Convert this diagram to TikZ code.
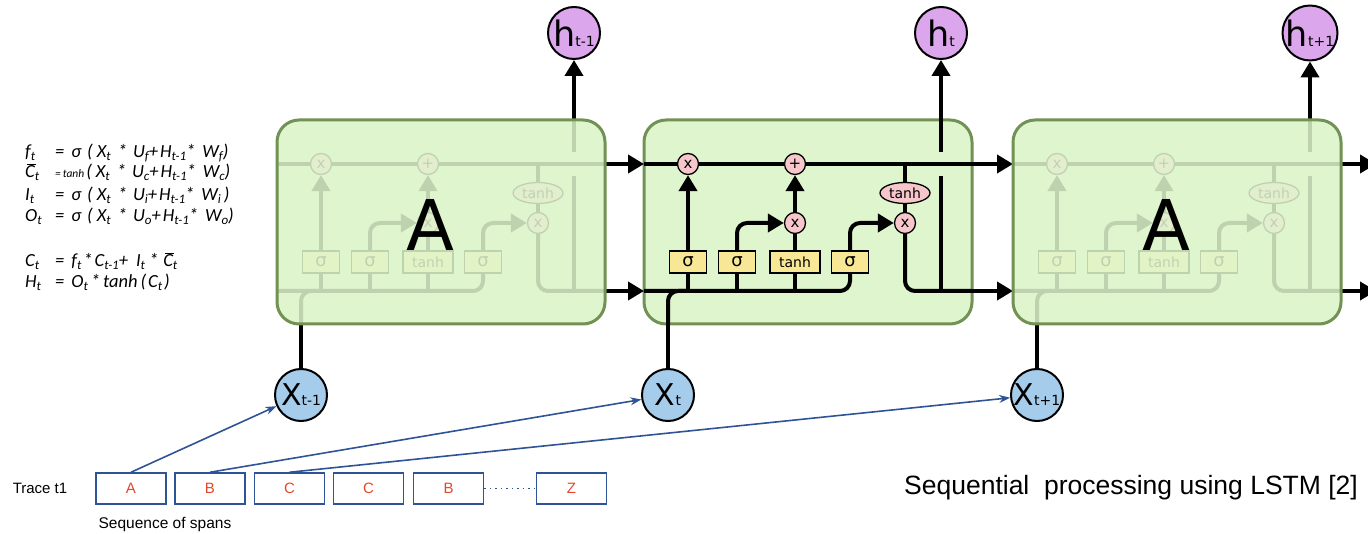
\documentclass[tikz,border=0pt]{standalone}
\usepackage{fontspec}
\setmainfont{DejaVu Sans}
\newfontfamily\lib{Liberation Sans}
\newfontfamily\carl{Carlito}
\usetikzlibrary{arrows.meta,shapes.geometric}
\pgfdeclarelayer{bg}\pgfdeclarelayer{lines}\pgfdeclarelayer{fade}\pgfdeclarelayer{top}
\pgfsetlayers{bg,lines,main,fade,top}
\definecolor{cCell}{RGB}{223,245,206}
\definecolor{cCellB}{RGB}{114,145,84}
\definecolor{cPink}{RGB}{246,198,203}
\definecolor{cYel}{RGB}{248,232,150}
\definecolor{cPur}{RGB}{220,166,236}
\definecolor{cBlu}{RGB}{166,204,236}
\definecolor{cArr}{RGB}{47,84,150}
\definecolor{cRed}{RGB}{226,72,44}
\newcommand\hsub[1]{{\fontsize{14}{14}\selectfont #1}}
\newcommand\es[1]{\raisebox{-3pt}{\fontsize{13}{13}\selectfont #1}}
\newcommand\cbar{\leavevmode\rlap{\hspace{1.5pt}\raisebox{13.5pt}{\rule{9pt}{0.9pt}}}C}
\newcommand\rhs[3]{=\hspace{7pt}#1\hspace{6pt}(\hspace{4pt}X\es{t}\hspace{7pt}*\hspace{6pt}U\es{#2}+\hspace{2pt}H\es{t-1}*\hspace{7pt}W\es{#2}#3)}
\tikzset{
  ln/.style={line width=4pt, black},
  arr/.style={-{Triangle[length=16pt,width=18pt]}},
  pc/.style={circle, draw, line width=1.3pt, fill=cPink, minimum size=21pt, inner sep=0pt, font=\fontsize{15}{15}\selectfont},
  pe/.style={ellipse, draw, line width=1.3pt, fill=cPink, minimum width=50pt, minimum height=21pt, inner sep=0pt, font=\fontsize{14}{14}\selectfont},
  yb/.style={rectangle, draw, line width=1.3pt, fill=cYel, minimum width=37pt, minimum height=22pt, inner sep=0pt, font=\fontsize{18}{18}\selectfont},
  cellshape/.style={rounded corners=22pt, line width=3pt, draw=cCellB},
  hc/.style={circle, draw, line width=2pt, fill=cPur, minimum size=52pt, inner sep=0pt, font=\fontsize{35}{35}\selectfont},
  xc/.style={circle, draw, line width=2pt, fill=cBlu, minimum size=52pt, inner sep=0pt, font=\fontsize{30}{30}\selectfont},
  span/.style={rectangle, draw=cArr, line width=1.5pt, minimum width=70pt, minimum height=31pt, inner sep=0pt, text=cRed, font=\lib\fontsize{15}{15}\selectfont},
  barr/.style={draw=cArr, line width=1.6pt, -{Stealth[length=11pt,width=8pt]}},
  eq/.style={anchor=base west, inner sep=0pt, font=\carl\itshape\fontsize{18.5}{20}\selectfont},
}
% #1 = left x, #2 = prefix, #3 = faded (1) or not (0)
\newcommand\lstmcell[3]{%
\begin{scope}[xshift=#1pt]
  \begin{pgfonlayer}{bg}
    \fill[cCell, rounded corners=22pt] (0,120) rectangle (328,324);
    \ifnum#3=0 \draw[cellshape] (0,120) rectangle (328,324);\fi
  \end{pgfonlayer}
  \coordinate (#2inL) at (0,164);
  \coordinate (#2outR) at (328,164);
  \coordinate (#2inLb) at (0,291);
  \coordinate (#2outRb) at (328,291);
  \coordinate (#2bot) at (24,324);
  \coordinate (#2top) at (297,120);
  \coordinate (#2j1) at (44,291);
  \coordinate (#2j2) at (93,291);
  \coordinate (#2j3) at (151,291);
  \coordinate (#2tt) at (261,164);
  \coordinate (#2ov) at (297,291);
  \coordinate (#2og1) at (297,176);
  \coordinate (#2og2) at (297,152);
  \node[pc] (#2x1) at (44,164) {x};
  \node[pc] (#2pl) at (151,164) {+};
  \node[pc] (#2xm) at (151,223) {x};
  \node[pe] (#2th) at (261,193) {tanh};
  \node[pc] (#2xr) at (261,223) {x};
  \node[yb] (#2s1) at (44,262) {σ};
  \node[yb] (#2s2) at (93,262) {σ};
  \node[yb, minimum width=50pt, font=\fontsize{14}{14}\selectfont] (#2tb) at (151,262) {tanh};
  \node[yb] (#2s3) at (206,262) {σ};
  \begin{pgfonlayer}{lines}
    \draw[ln] (#2inL) -- (#2x1) -- (#2pl) -- (#2outR);
    \draw[ln, rounded corners=10pt] (#2inLb) -| (#2s3.south);
    \draw[ln, rounded corners=10pt] (#2bot) |- (#2j1);
    \draw[ln] (#2j1) -- (#2s1);
    \draw[ln] (#2j2) -- (#2s2);
    \draw[ln] (#2j3) -- (#2tb);
    \draw[ln, arr] (#2s1) -- (#2x1);
    \draw[ln, arr, rounded corners=10pt] (#2s2.north) |- (#2xm.west);
    \draw[ln] (#2tb) -- (#2xm);
    \draw[ln, arr] (#2xm) -- (#2pl);
    \draw[ln, arr, rounded corners=10pt] (#2s3.north) |- (#2xr.west);
    \draw[ln] (#2tt) -- (#2th);
    \draw[ln] (#2th) -- (#2xr);
    \draw[ln, rounded corners=10pt] (#2xr.south) |- (#2outRb);
    \draw[ln] (#2ov) -- (#2og1);
    \draw[ln] (#2og2) -- (#2top);
  \end{pgfonlayer}
  \ifnum#3=1
  \begin{pgfonlayer}{fade}
    \fill[cCell, fill opacity=0.86, rounded corners=22pt] (0,120) rectangle (328,324);
    \draw[cellshape] (0,120) rectangle (328,324);
  \end{pgfonlayer}
  \begin{pgfonlayer}{top}
    \node[font=\fontsize{70}{70}\selectfont, inner sep=0pt] (#2A) at (153,225) {A};
  \end{pgfonlayer}
  \fi
\end{scope}}
\begin{document}
\begin{tikzpicture}[x=1pt, y=-1pt]
\useasboundingbox (0,0) rectangle (1368,534);
\lstmcell{277}{a}{1}
\lstmcell{644}{b}{0}
\lstmcell{1013}{c}{1}
% hidden outputs
\node[hc] (htm1) at (574,33) {h\hsub{t-1}};
\node[hc] (ht) at (941,33) {h\hsub{t}};
\node[hc] (htp1) at (1310,33) {h\hsub{t+1}};
\draw[ln, arr] (atop) -- (htm1);
\draw[ln, arr] (btop) -- (ht);
\draw[ln, arr] (ctop) -- (htp1);
% inputs
\node[xc] (xtm1) at (301,395) {X\hsub{t-1}};
\node[xc] (xt) at (668,395) {X\hsub{t}};
\node[xc] (xtp1) at (1037,395) {X\hsub{t+1}};
\draw[ln] (xtm1) -- (abot);
\draw[ln] (xt) -- (bbot);
\draw[ln] (xtp1) -- (cbot);
% between cells
\coordinate (exT) at (1376,164);
\coordinate (exB) at (1376,291);
\draw[ln, arr] (aoutR) -- (binL);
\draw[ln, arr] (aoutRb) -- (binLb);
\draw[ln, arr] (boutR) -- (cinL);
\draw[ln, arr] (boutRb) -- (cinLb);
\draw[ln, arr] (coutR) -- (exT);
\draw[ln, arr] (coutRb) -- (exB);
% equations
\node[eq] (e1) at (25,158) {\makebox[30pt][l]{f\es{t}}\rhs{σ}{f}{}};
\node[eq] (e2) at (25,178) {\makebox[30pt][l]{\cbar\es{t}}{\fontsize{11.5}{11.5}\selectfont =\,tanh}\hspace{2pt}(\hspace{4pt}X\es{t}\hspace{7pt}*\hspace{6pt}U\es{c}+\hspace{2pt}H\es{t-1}*\hspace{7pt}W\es{c})};
\node[eq] (e3) at (25,201) {\makebox[30pt][l]{I\es{t}}\rhs{σ}{i}{\,}};
\node[eq] (e4) at (25,222) {\makebox[30pt][l]{O\es{t}}\rhs{σ}{o}{}};
\node[eq] (e5) at (25,267) {\makebox[30pt][l]{C\es{t}}=\hspace{7pt}f\es{t}\hspace{2pt}*\hspace{2pt}C\es{t-1}+\hspace{8pt}I\es{t}\hspace{4pt}*\hspace{5pt}\cbar\es{t}};
\node[eq] (e6) at (25,288) {\makebox[30pt][l]{H\es{t}}=\hspace{7pt}O\es{t}\hspace{3pt}*\hspace{3pt}tanh\hspace{3pt}(\hspace{2pt}C\es{t}\hspace{2pt})};
% sequence of spans
\node[font=\lib\fontsize{15}{15}\selectfont] (tr) at (40,488) {Trace t1};
\node[span] (sA) at (131,488.5) {A};
\node[span] (sB) at (210,488.5) {B};
\node[span] (sC) at (289.5,488.5) {C};
\node[span] (sC2) at (368.5,488.5) {C};
\node[span] (sB2) at (448.5,488.5) {B};
\node[span] (sZ) at (571.5,488.5) {Z};
\draw[draw=cArr, line width=1.5pt, dash pattern=on 1.5pt off 4pt] (sB2) -- (sZ);
\node[font=\lib\fontsize{15.5}{15.5}\selectfont] (seq) at (165,524) {Sequence of spans};
\draw[barr] (sA.north) -- (xtm1);
\draw[barr] (sB.north) -- (xt);
\draw[barr] (sC.north) -- (xtp1);
\node[font=\lib\fontsize{26.5}{26.5}\selectfont] (title) at (1131,488) {Sequential\ \ processing using LSTM [2]};
\end{tikzpicture}
\end{document}
